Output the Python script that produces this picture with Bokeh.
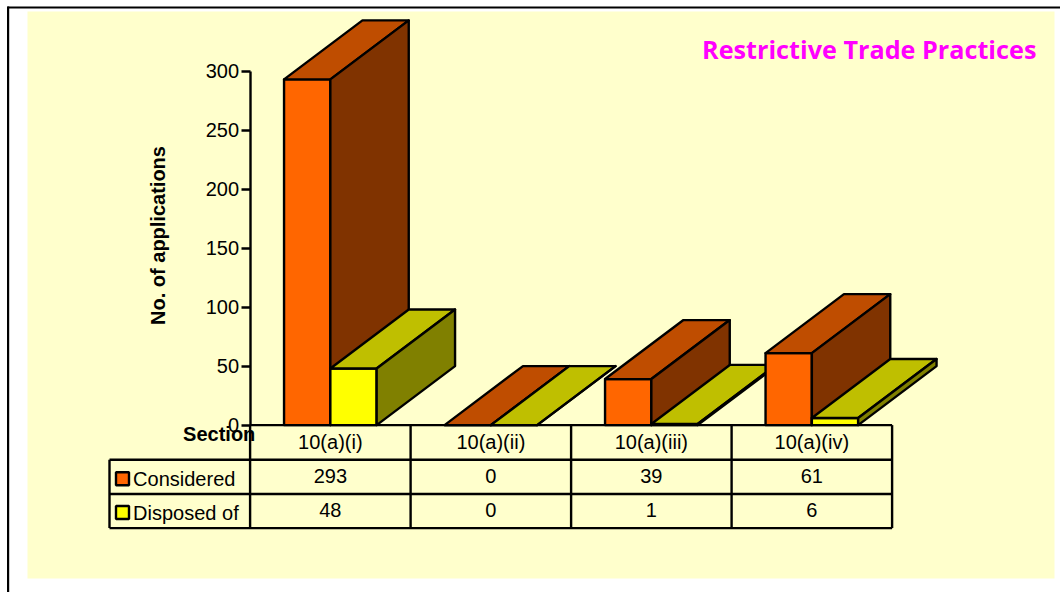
from bokeh.plotting import figure
from bokeh.models import LinearAxis, FixedTicker, ColumnDataSource
from bokeh.core.properties import value
from bokeh.embed import file_html
from bokeh.resources import INLINE
from math import pi

# ---- data ----
categories = ["10(a)(i)", "10(a)(ii)", "10(a)(iii)", "10(a)(iv)"]
considered = [293, 0, 39, 61]
disposed = [48, 0, 1, 6]
series_names = ["Considered", "Disposed of"]
y_ticks = [0, 50, 100, 150, 200, 250, 300]
title_text = "Restrictive Trade Practices"
y_title = "No. of applications"
corner_title = "Section"

# ---- layout (picture pixels) ----
PAGE_X0, PAGE_Y0 = 0, 0
W, H = 1060, 592
ZERO_X, CELL_W = 249.6, 160.5
ZERO_Y, PX_PER_UNIT = 424.6, 1.18
LW = 2.4


def X(px):
    return (px - ZERO_X) / CELL_W


def Y(py):
    return (ZERO_Y - py) / PX_PER_UNIT


p = figure(width=W, height=H, output_backend="svg", toolbar_location=None,
           x_range=(X(PAGE_X0), X(PAGE_X0 + W)), y_range=(Y(PAGE_Y0 + H), Y(PAGE_Y0)),
           x_axis_location=None, y_axis_location=None, min_border=0,
           background_fill_color="white", border_fill_color="white")
p.grid.visible = False
p.outline_line_color = None

BLACK = "#000000"
FONT = value("Liberation Sans")

# panel
p.quad(left=[X(27)], right=[X(1054)], top=[Y(11)], bottom=[Y(578)],
       fill_color="#FFFFCC", line_color=None)
# outer frame
p.segment(x0=[X(7), X(7.6)], y0=[Y(7), Y(6)], x1=[X(PAGE_X0 + W), X(7.6)], y1=[Y(7), Y(PAGE_Y0 + H)],
          line_color=BLACK, line_width=2.2)

# 3D bars, painted back to front
HALF = 46.3 / CELL_W
DX = 78.4 / CELL_W
DY = 59.0 / PX_PER_UNIT
face_x, face_y, face_c = [], [], []
palette = [("#FF6600", "#BF4D00", "#803300"), ("#FFFF00", "#BFBF00", "#808000")]
for i in range(len(categories)):
    centre = i + 0.5
    for s, vals in enumerate((considered, disposed)):
        v = vals[i]
        x0 = centre - HALF + s * HALF
        x1 = x0 + HALF
        front, top, side = palette[s]
        face_x += [[x0, x1, x1, x0],
                   [x0, x1, x1 + DX, x0 + DX],
                   [x1, x1 + DX, x1 + DX, x1]]
        face_y += [[0, 0, v, v],
                   [v, v, v + DY, v + DY],
                   [0, DY, v + DY, v]]
        face_c += [front, top, side]
p.patches("x", "y", source=ColumnDataSource(dict(x=face_x, y=face_y, c=face_c)),
          fill_color="c", line_color=BLACK, line_width=LW, line_join="round")

# data table grid
n = len(categories)
rows_py = [459.3, 493.5, 527.6]
gx0 = [0] + [X(109)] * 3 + [j for j in range(n + 1)] + [X(109)]
gy0 = [0] + [Y(r) for r in rows_py] + [0] * (n + 1) + [Y(rows_py[0])]
gx1 = [n] + [n] * 3 + [j for j in range(n + 1)] + [X(109)]
gy1 = [0] + [Y(r) for r in rows_py] + [Y(rows_py[-1])] * (n + 1) + [Y(rows_py[-1])]
p.segment(x0=gx0, y0=gy0, x1=gx1, y1=gy1, line_color=BLACK, line_width=LW)

# legend keys in the table
for k, (py, col) in enumerate(zip((478.3, 512.0), ("#FF6600", "#FFFF00"))):
    p.quad(left=[X(115.5)], right=[X(128.5)], top=[Y(py - 6.5)], bottom=[Y(py + 6.5)],
           fill_color=col, line_color=BLACK, line_width=LW)

cx = [j + 0.5 for j in range(n)]
common = dict(text_font=FONT, text_font_size="20px", text_color=BLACK, text_baseline="middle")
p.text(x=cx, y=[Y(441)] * n, text=categories, text_align="center", **common)
p.text(x=cx, y=[Y(475)] * n, text=[str(v) for v in considered], text_align="center", **common)
p.text(x=cx, y=[Y(509)] * n, text=[str(v) for v in disposed], text_align="center", **common)
p.text(x=[X(132.6), X(132.6)], y=[Y(478), Y(512)], text=series_names, text_align="left", **common)

bold = dict(common, text_font_style="bold")
p.text(x=[X(182.6)], y=[Y(433)], text=[corner_title], text_align="left", **bold)
p.text(x=[X(157)], y=[Y(235)], text=[y_title], angle=[pi / 2], text_align="center", **bold)
p.text(x=[X(701.5)], y=[Y(48)], text=[title_text], text_align="left", text_font=value("Open Sans"),
       text_font_style="bold", text_font_size="25.2px", text_color="#FF00FF", text_baseline="middle")

# value axis
axis = LinearAxis(fixed_location=0, bounds=(0, 300), ticker=FixedTicker(ticks=y_ticks))
axis.axis_line_color = BLACK
axis.axis_line_width = LW
axis.major_tick_line_color = BLACK
axis.major_tick_line_width = LW
axis.major_tick_in = 0
axis.major_tick_out = 9
axis.minor_tick_line_color = None
axis.major_label_standoff = 2
axis.major_label_text_font = "Liberation Sans"
axis.major_label_text_font_size = "20px"
axis.major_label_text_color = BLACK
p.add_layout(axis, "left")

open("out.html", "w").write(file_html(p, INLINE))
